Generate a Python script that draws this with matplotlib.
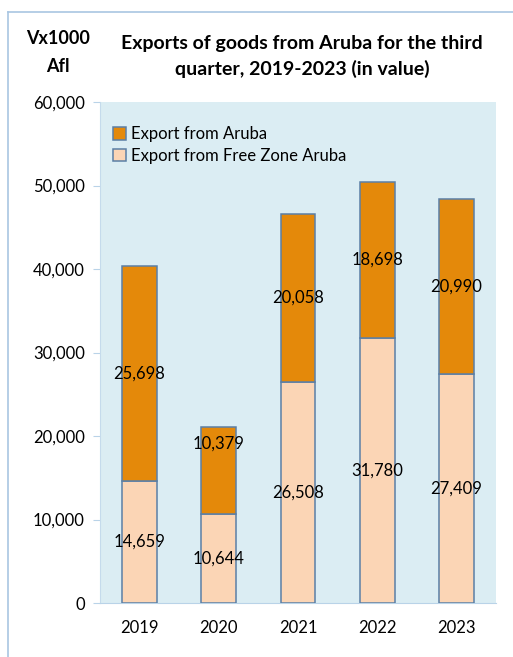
import matplotlib.pyplot as plt
from matplotlib.lines import Line2D
import numpy as np

years = ["2019", "2020", "2021", "2022", "2023"]
free_zone = [14659, 10644, 26508, 31780, 27409]
aruba = [25698, 10379, 20058, 18698, 20990]

plt.rcParams['font.family'] = ['Lato', 'DejaVu Sans']

fig = plt.figure(figsize=(5.13, 6.57), dpi=100)
ax = fig.add_axes([100 / 513, 1 - 603 / 657, 396 / 513, 501 / 657])

x = np.arange(len(years))
w = 0.44
edge = "#5B7FA6"
ax.bar(x, free_zone, w, color="#FBD5B5", edgecolor=edge, linewidth=1.1,
       label="Export from Free Zone Aruba", zorder=3)
ax.bar(x, aruba, w, bottom=free_zone, color="#E4890A", edgecolor=edge,
       linewidth=1.1, label="Export from Aruba", zorder=3)

# data labels centred in each segment (2020 Aruba label sits higher in the original)
for i in range(len(years)):
    ax.text(x[i], free_zone[i] / 2, f"{free_zone[i]:,}", ha="center",
            va="center", fontsize=12, zorder=4)
    yoff = 3200 if years[i] == "2020" else 0
    ax.text(x[i], free_zone[i] + aruba[i] / 2 + yoff, f"{aruba[i]:,}",
            ha="center", va="center", fontsize=12, zorder=4)

ax.set_facecolor("#DBEDF3")
ax.set_xlim(-0.5, len(years) - 0.5)
ax.set_ylim(0, 60000)
ax.set_yticks(range(0, 60001, 10000))
ax.set_yticklabels([f"{v:,}" for v in range(0, 60001, 10000)], fontsize=12)
ax.set_xticks(x)
ax.set_xticklabels(years, fontsize=12)
ax.tick_params(axis="y", length=5, color="#B9D3E8", pad=6)
ax.tick_params(axis="x", length=0, pad=12)
for s in ["top", "right"]:
    ax.spines[s].set_visible(False)
ax.spines["left"].set_color("#C5DBEC")
ax.spines["bottom"].set_color("#B9D3E8")

h, l = ax.get_legend_handles_labels()
leg = ax.legend(h[::-1], l[::-1], loc="upper left", bbox_to_anchor=(0.0, 0.978),
                frameon=False, fontsize=12, handlelength=0.75, handleheight=0.75,
                handletextpad=0.3, labelspacing=0.35, borderaxespad=0.4)

fig.text(58 / 513, 1 - 38 / 657, "Vx1000", ha="center", va="center",
         fontsize=13, fontweight="bold")
fig.text(58 / 513, 1 - 67 / 657, "Afl", ha="center", va="center",
         fontsize=13, fontweight="bold")
fig.text(302 / 513, 1 - 43 / 657, "Exports of goods from Aruba for the third",
         ha="center", va="center", fontsize=14, fontweight="bold")
fig.text(302 / 513, 1 - 69 / 657, "quarter, 2019-2023 (in value)",
         ha="center", va="center", fontsize=14, fontweight="bold")

# outer chart frame
fig.add_artist(Line2D([8 / 513, 8 / 513], [0, 1 - 12 / 657], color="#A9C6E2", lw=1.2))
fig.add_artist(Line2D([8 / 513, 1], [1 - 12 / 657, 1 - 12 / 657], color="#A9C6E2", lw=1.2))

fig.savefig("out.png", dpi=100)
